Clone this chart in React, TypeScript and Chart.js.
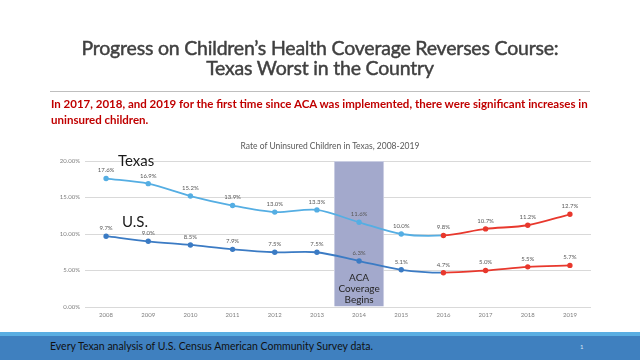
import React, { useEffect, useRef } from "react";
import { Chart, registerables } from "chart.js";

Chart.register(...registerables);

const years = ["2008", "2009", "2010", "2011", "2012", "2013", "2014", "2015", "2016", "2017", "2018", "2019"];
const texasRates = [17.6, 16.9, 15.2, 13.9, 13.0, 13.3, 11.6, 10.0, 9.8, 10.7, 11.2, 12.7];
const usRates = [9.7, 9.0, 8.5, 7.9, 7.5, 7.5, 6.3, 5.1, 4.7, 5.0, 5.5, 5.7];
const yTickValues = [0, 5, 10, 15, 20];
const acaYear = "2014";
const acaLabelLines = ["ACA", "Coverage", "Begins"];
const increaseStartYear = "2016";

const FONT = "Lato, 'Open Sans', sans-serif";
const TEXAS_BLUE = "#55aee3";
const US_BLUE = "#3b7bc4";
const RED = "#e8382d";

const valueLabelPlugin = {
  id: "valueLabels",
  afterDatasetsDraw(chart: any) {
    const ctx = chart.ctx;
    ctx.save();
    ctx.font = `6px ${FONT}`;
    ctx.fillStyle = "#595959";
    ctx.textAlign = "center";
    ctx.textBaseline = "middle";
    chart.data.datasets.forEach((ds: any, i: number) => {
      if (ds.type !== "line") return;
      const meta = chart.getDatasetMeta(i);
      meta.data.forEach((pt: any, j: number) => {
        const v = ds.data[j];
        if (v == null) return;
        ctx.fillText(`${v.toFixed(1)}%`, pt.x, pt.y - 8);
      });
    });
    const xs = chart.scales.x;
    const ys = chart.scales.y;
    const cx = xs.getPixelForValue(years.indexOf(acaYear));
    ctx.font = `10px ${FONT}`;
    ctx.fillStyle = "#262626";
    const baseY = ys.getPixelForValue(4.0);
    acaLabelLines.forEach((line, k) => {
      ctx.fillText(line, cx, baseY + k * 11);
    });
    ctx.restore();
  },
};

export default function App() {
  const canvasRef = useRef<HTMLCanvasElement | null>(null);

  useEffect(() => {
    const redFrom = years.indexOf(increaseStartYear);
    const colorFor = (base: string) => (ctx: any) => (ctx.p0DataIndex >= redFrom ? RED : base);
    const pointColors = (base: string) => years.map((_, i) => (i >= redFrom ? RED : base));
    const chart = new Chart(canvasRef.current as HTMLCanvasElement, {
      type: "line",
      data: {
        labels: years,
        datasets: [
          {
            type: "line",
            label: "Texas",
            data: texasRates,
            borderColor: TEXAS_BLUE,
            borderWidth: 1.8,
            segment: { borderColor: colorFor(TEXAS_BLUE) },
            pointBackgroundColor: pointColors(TEXAS_BLUE),
            pointBorderColor: pointColors(TEXAS_BLUE),
            pointRadius: 1.8,
            tension: 0.3,
            order: 0,
          } as any,
          {
            type: "line",
            label: "U.S.",
            data: usRates,
            borderColor: US_BLUE,
            borderWidth: 1.8,
            segment: { borderColor: colorFor(US_BLUE) },
            pointBackgroundColor: pointColors(US_BLUE),
            pointBorderColor: pointColors(US_BLUE),
            pointRadius: 1.8,
            tension: 0.3,
            order: 1,
          } as any,
          {
            type: "bar",
            label: "ACA Coverage Begins",
            data: years.map((y) => (y === acaYear ? 20 : null)),
            backgroundColor: "#a3a9cc",
            borderColor: "#c9cde2",
            borderWidth: 1,
            barPercentage: 1.19,
            categoryPercentage: 1,
            order: 5,
          } as any,
        ],
      },
      options: {
        responsive: false,
        animation: false,
        layout: { padding: { left: 40, right: 49, top: 161, bottom: 37 } },
        plugins: {
          legend: { display: false },
          tooltip: { enabled: false },
          title: { display: false },
        },
        scales: {
          x: {
            offset: true,
            grid: { display: false, drawTicks: false },
            border: { display: false },
            ticks: { color: "#7f7f7f", font: { size: 6, family: FONT }, padding: 4 },
            afterFit: (s: any) => {
              s.height = 16;
            },
          },
          y: {
            min: 0,
            max: 20,
            afterBuildTicks: (s: any) => {
              s.ticks = yTickValues.map((v) => ({ value: v }));
            },
            grid: { color: "#d9d9d9", drawTicks: false },
            border: { display: false },
            ticks: {
              color: "#7f7f7f",
              font: { size: 6, family: FONT },
              padding: 5,
              callback: (v: any) => `${Number(v).toFixed(2)}%`,
            },
            afterFit: (s: any) => {
              s.width = 45;
            },
          },
        },
      },
      plugins: [valueLabelPlugin],
    });
    return () => chart.destroy();
  }, []);

  const abs = (extra: React.CSSProperties): React.CSSProperties => ({
    position: "absolute",
    whiteSpace: "nowrap",
    fontFamily: FONT,
    ...extra,
  });

  return (
    <div style={{ position: "fixed", left: 0, top: 0, width: 640, height: 360, background: "#fff", overflow: "hidden" }}>
      <canvas ref={canvasRef} width={640} height={360} style={{ position: "absolute", left: 0, top: 0 }} />
      <div
        style={abs({
          left: 0,
          width: 640,
          top: 38,
          textAlign: "center",
          fontSize: 19.5,
          lineHeight: "20px",
          color: "#404040",
          letterSpacing: -0.2,
          WebkitTextStroke: "0.45px #404040",
        } as React.CSSProperties)}
      >
        Progress on Children’s Health Coverage Reverses Course:
        <br />
        Texas Worst in the Country
      </div>
      <div style={abs({ left: 50, top: 91, width: 540, height: 1, background: "#bfbfbf" })} />
      <div style={abs({ left: 51, top: 96, fontSize: 11.5, lineHeight: "16px", fontWeight: 700, color: "#c00000" })}>
        In 2017, 2018, and 2019 for the first time since ACA was implemented, there were significant increases in
        <br />
        uninsured children.
      </div>
      <div style={abs({ left: 0, width: 660, top: 141, textAlign: "center", fontSize: 8.5, color: "#595959" })}>
        Rate of Uninsured Children in Texas, 2008-2019
      </div>
      <div style={abs({ left: 118, top: 151, fontSize: 15, color: "#1a1a1a" })}>Texas</div>
      <div style={abs({ left: 122, top: 212, fontSize: 15, color: "#1a1a1a" })}>U.S.</div>
      <div style={abs({ left: 0, top: 332, width: 640, height: 4, background: "#5aaee2" })} />
      <div style={abs({ left: 0, top: 336, width: 640, height: 24, background: "#3f80bf" })} />
      <div style={abs({ left: 50, top: 340, fontSize: 10.5, color: "#111" })}>
        Every Texan analysis of U.S. Census American Community Survey data.
      </div>
      <div style={abs({ left: 580, top: 343, fontSize: 6, color: "#d8e6f3" })}>1</div>
    </div>
  );
}
